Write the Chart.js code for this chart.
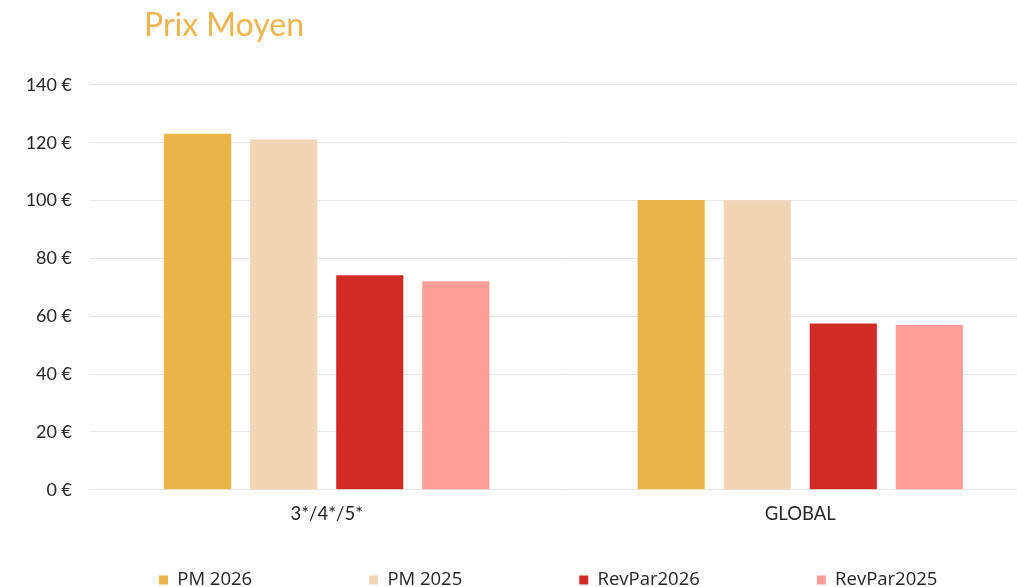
<!DOCTYPE html>
<html>
<head>
<meta charset="utf-8">
<script src="https://cdn.jsdelivr.net/npm/chart.js@4/dist/chart.umd.min.js"></script>
<style>
  html, body { margin: 0; padding: 0; background: #fff; overflow: hidden; }
  #wrap { position: absolute; left: 0; top: 0; width: 1040px; height: 587px; }
</style>
</head>
<body>
<div id="wrap"><canvas id="c" width="1040" height="587"></canvas></div>
<script>
const categories = ["3*/4*/5*", "GLOBAL"];
const seriesNames = ["PM 2026", "PM 2025", "RevPar2026", "RevPar2025"];
const pm2026 = [123.1, 100.2];
const pm2025 = [121.1, 100.1];
const revpar2026 = [74.2, 57.5];
const revpar2025 = [72.1, 57.0];
const yTicks = [0, 20, 40, 60, 80, 100, 120, 140];
const titleText = "Prix Moyen";

const colors = ["#EBB44A", "#F1D6B6", "#D12B26", "#FF9D99"];
const seriesValues = [pm2026, pm2025, revpar2026, revpar2025];

const posPlugin = {
  id: 'pos',
  afterLayout(chart) {
    if (chart.titleBlock) {
      chart.titleBlock.left = 144;
    }
    const lg = chart.legend;
    if (lg) {
      const p = lg.options.labels.padding;
      const fs = lg.options.labels.font.size;
      lg.left = 159 - p;
      lg.right = 1400;
      lg.top = 580 - p - fs / 2;
      lg.bottom = 660;
    }
  }
};

new Chart(document.getElementById('c'), {
  type: 'bar',
  data: {
    labels: categories,
    datasets: seriesNames.map((n, i) => ({
      label: n,
      data: seriesValues[i],
      backgroundColor: colors[i],
      borderWidth: 0,
      categoryPercentage: 0.727,
      barPercentage: 0.78
    }))
  },
  options: {
    responsive: false,
    animation: false,
    layout: { padding: { left: 0, right: 3, top: 0, bottom: 0 } },
    plugins: {
      title: {
        display: true,
        text: titleText,
        align: 'start',
        color: '#EDB54F',
        font: { family: 'Lato, sans-serif', size: 32, weight: 'normal' },
        padding: { top: 6, bottom: 40.5 }
      },
      legend: {
        position: 'bottom',
        align: 'start',
        maxHeight: 49,
        labels: {
          boxWidth: 9,
          boxHeight: 9,
          padding: 117,
          color: '#262626',
          font: { family: "'Open Sans', sans-serif", size: 18.5 }
        }
      },
      tooltip: { enabled: false }
    },
    scales: {
      x: {
        grid: { display: false, drawTicks: false },
        border: { display: false },
        ticks: {
          color: '#262626',
          padding: 13,
          font: { family: 'Lato, sans-serif', size: 18.5 }
        }
      },
      y: {
        min: 0,
        max: 140,
        afterFit(scale) { scale.width = 90; },
        afterBuildTicks(scale) { scale.ticks = yTicks.map(v => ({ value: v })); },
        grid: { color: '#e6e6e6', drawTicks: false, lineWidth: 1 },
        border: { display: false },
        ticks: {
          color: '#262626',
          padding: 18,
          font: { family: 'Lato, sans-serif', size: 18 },
          callback: (v) => v + ' €'
        }
      }
    }
  },
  plugins: [posPlugin]
});
</script>
</body>
</html>
